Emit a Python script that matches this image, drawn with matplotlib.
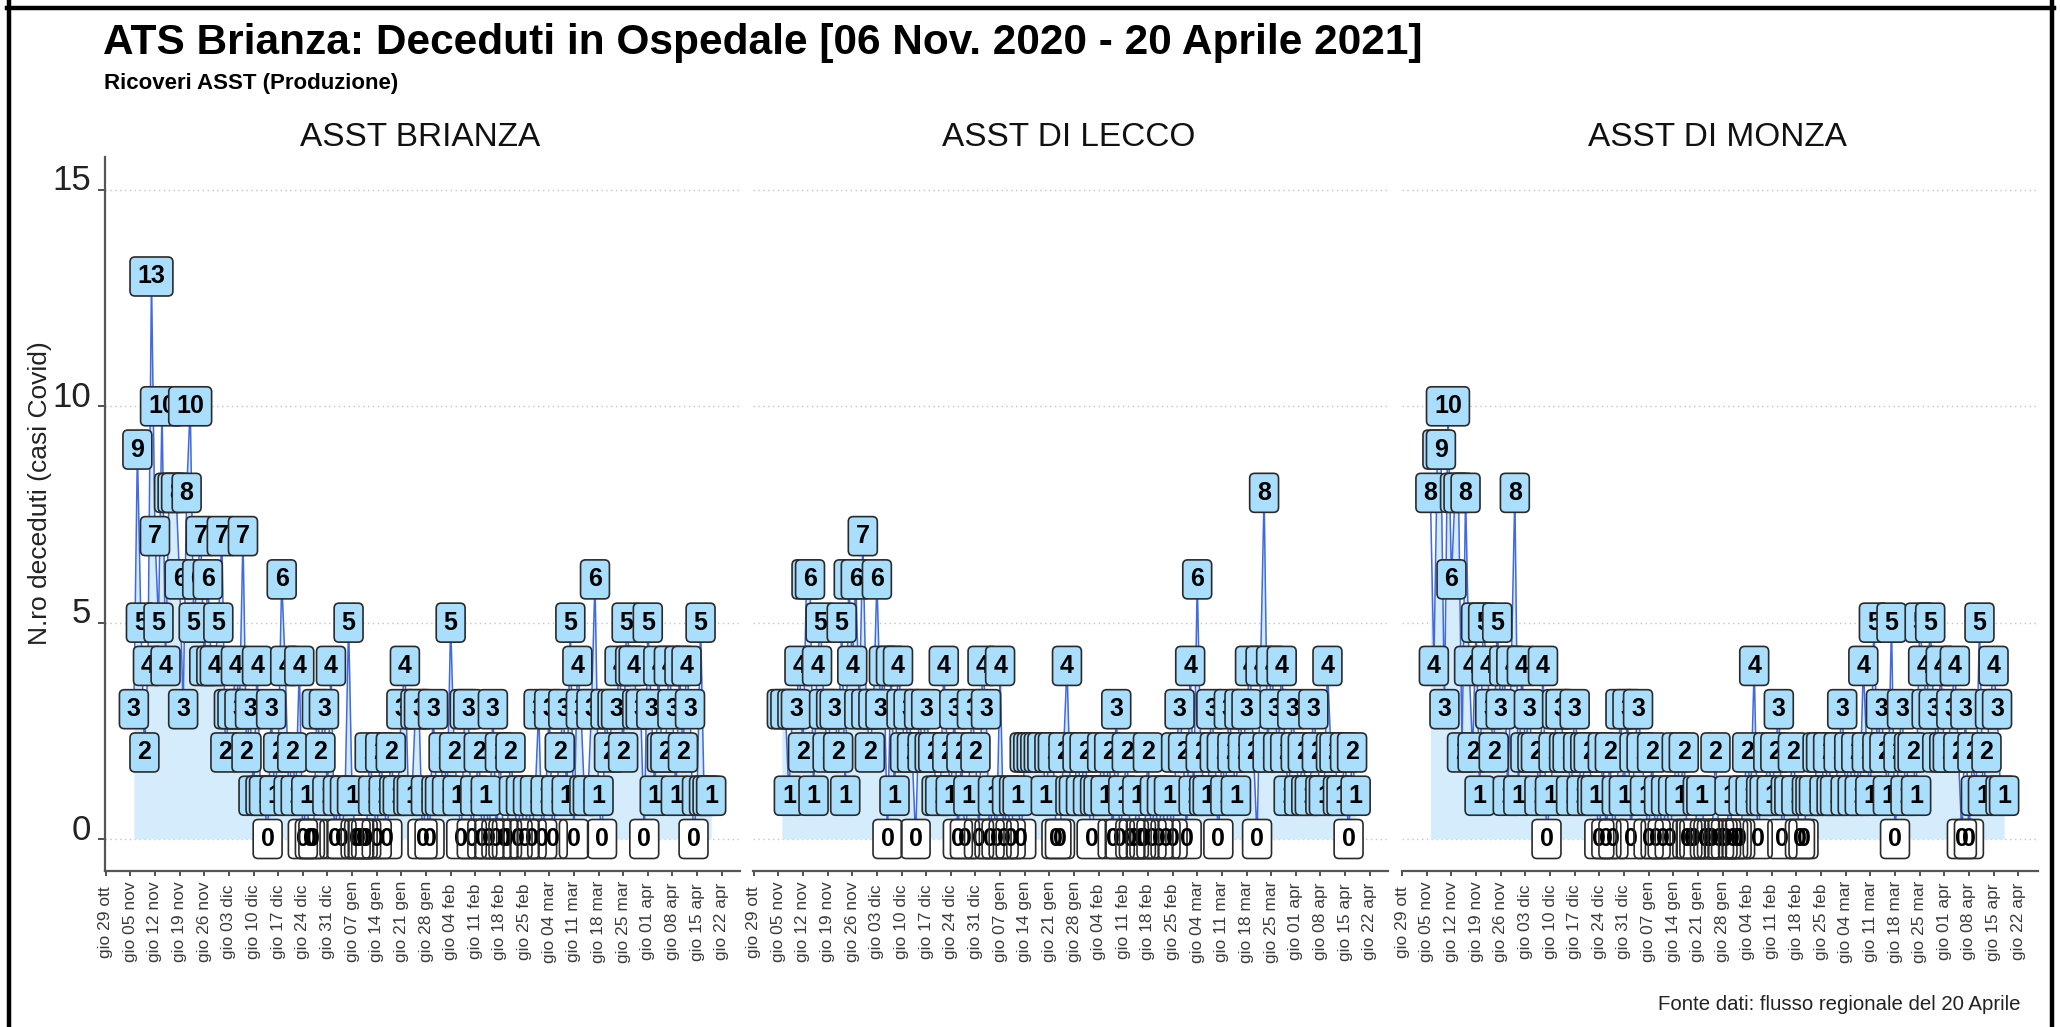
import matplotlib
matplotlib.use("Agg")
import matplotlib.pyplot as plt
import pandas as pd
from matplotlib.lines import Line2D
from matplotlib.transforms import ScaledTranslation

plt.rcParams['font.family'] = ['Liberation Sans', 'DejaVu Sans']

panels = ["ASST BRIANZA", "ASST DI LECCO", "ASST DI MONZA"]

brianza = [
    3, 9, 5, 2, 4, 13, 7, 5, 10, 4,
    8, 8, 8, 6, 3, 8, 10, 5, 6, 7,
    4, 6, 4, 4, 5, 7, 2, 3, 3, 4,
    3, 7, 2, 3, 1, 4, 1, 1, 0, 3,
    1, 2, 6, 4, 1, 2, 1, 4, 0, 1,
    0, 0, 3, 2, 3, 1, 4, 0, 1, 0,
    1, 5, 1, 0, 0, 0, 0, 2, 1, 0,
    2, 1, 0, 2, 1, 1, 3, 4, 1, 1,
    3, 3, 0, 1, 0, 3, 1, 1, 2, 1,
    5, 2, 1, 0, 3, 3, 0, 1, 2, 0,
    1, 0, 3, 0, 2, 0, 0, 2, 1, 0,
    1, 0, 1, 0, 1, 3, 0, 1, 3, 0,
    1, 2, 3, 1, 5, 0, 4, 3, 1, 1,
    3, 6, 1, 0, 3, 2, 3, 3, 4, 2,
    5, 4, 4, 3, 3, 0, 5, 3, 1, 4,
    2, 2, 4, 3, 1, 4, 2, 4, 3, 0,
    1, 5, 1, 1, 1,
]
lecco = [
    3, 3, 1, 3, 3, 4, 2, 6, 6, 1,
    4, 5, 3, 2, 3, 3, 2, 5, 1, 6,
    4, 6, 3, 7, 3, 2, 3, 6, 3, 4,
    0, 4, 1, 4, 3, 2, 3, 2, 0, 3,
    2, 3, 2, 2, 1, 1, 4, 2, 1, 3,
    0, 2, 0, 1, 3, 2, 0, 4, 3, 0,
    1, 0, 4, 0, 1, 0, 1, 1, 0, 2,
    2, 2, 2, 2, 2, 1, 2, 2, 0, 0,
    2, 4, 1, 1, 2, 1, 2, 1, 0, 1,
    1, 2, 1, 2, 0, 3, 0, 1, 2, 0,
    0, 1, 0, 0, 2, 0, 1, 0, 1, 0,
    1, 0, 2, 3, 2, 0, 4, 1, 6, 2,
    1, 1, 3, 2, 0, 2, 1, 3, 2, 1,
    3, 2, 3, 4, 2, 0, 4, 8, 2, 4,
    3, 2, 4, 2, 1, 3, 2, 1, 2, 1,
    1, 3, 2, 1, 1, 4, 2, 2, 1, 1,
    2, 0, 2, 1,
]
monza = [
    8, 4, 9, 9, 3, 10, 6, 8, 8, 2,
    8, 4, 2, 5, 1, 5, 4, 3, 2, 5,
    3, 4, 1, 4, 8, 1, 4, 2, 3, 2,
    2, 1, 4, 0, 1, 2, 3, 3, 2, 2,
    1, 3, 2, 1, 2, 2, 1, 1, 0, 2,
    0, 2, 0, 1, 3, 1, 3, 0, 2, 3,
    2, 1, 0, 2, 0, 1, 0, 1, 0, 1,
    2, 1, 2, 0, 0, 0, 1, 1, 0, 0,
    0, 2, 0, 0, 0, 1, 0, 0, 0, 1,
    2, 1, 4, 0, 1, 1, 2, 1, 2, 3,
    0, 1, 1, 2, 1, 0, 0, 1, 1, 1,
    2, 2, 1, 2, 1, 1, 2, 3, 1, 2,
    1, 2, 1, 4, 2, 1, 5, 2, 3, 2,
    1, 5, 0, 2, 3, 1, 2, 2, 1, 5,
    4, 3, 5, 3, 2, 4, 2, 2, 3, 4,
    2, 0, 3, 0, 2, 1, 5, 1, 2, 3,
    4, 3, 1, 1,
]
series = [brianza, lecco, monza]
start_date = "2020-11-06"

tick_labels = [
    "gio 29 ott", "gio 05 nov", "gio 12 nov", "gio 19 nov", "gio 26 nov",
    "gio 03 dic", "gio 10 dic", "gio 17 dic", "gio 24 dic", "gio 31 dic",
    "gio 07 gen", "gio 14 gen", "gio 21 gen", "gio 28 gen", "gio 04 feb",
    "gio 11 feb", "gio 18 feb", "gio 25 feb", "gio 04 mar", "gio 11 mar",
    "gio 18 mar", "gio 25 mar", "gio 01 apr", "gio 08 apr", "gio 15 apr",
    "gio 22 apr",
]
y_ticks = [0, 5, 10, 15]

W, H = 2060, 1027
fig = plt.figure(figsize=(W / 100, H / 100), dpi=100, facecolor="white")


def fx(px):
    return px / W


def fy(px):
    return 1 - px / H


AX_TOP, AX_BOTTOM = 157, 871
panel_edges = [(105, 740), (753, 1388), (1401.5, 2038)]
Y0_PX, PX_PER_UNIT = 839, 43.27
PX_PER_DAY = 3.52

tick_dates = pd.date_range("2020-10-29", periods=len(tick_labels), freq="7D")
LINE = "#4169E1"
AREA = "#D4ECFC"
FILL = "#A9DEFD"
EDGE = "#2A2A2A"
BOX = "round,pad=0.3,rounding_size=0.2"
LABEL_SIZE = 18

for idx, (name, vals) in enumerate(zip(panels, series)):
    left, right = panel_edges[idx]
    ax = fig.add_axes([fx(left), fy(AX_BOTTOM), (right - left) / W, (AX_BOTTOM - AX_TOP) / H])
    dates = pd.date_range(start_date, periods=len(vals), freq="D")
    ax.set_ylim(-(AX_BOTTOM - Y0_PX) / PX_PER_UNIT, (Y0_PX - AX_TOP) / PX_PER_UNIT)
    d0 = tick_dates[0] - pd.Timedelta(days=0.2)
    ax.set_xlim(d0, d0 + pd.Timedelta(days=(right - left) / PX_PER_DAY))

    ax.fill_between(dates, 0, vals, color=AREA, lw=0, zorder=1)
    ax.plot(dates, vals, color=LINE, lw=1.1, zorder=2)

    for d, v in zip(dates, vals):
        if v == 0:
            # white ground first; outlines and digits of the zero labels show through one another
            ax.text(d, v, str(v), ha="center", va="center", fontsize=LABEL_SIZE, fontweight="bold",
                    color=(0, 0, 0, 0), zorder=3, clip_on=False,
                    bbox=dict(boxstyle=BOX, fc="white", ec="none"))
            ax.text(d, v, str(v), ha="center", va="center", fontsize=LABEL_SIZE, fontweight="bold",
                    color="black", zorder=3.5, clip_on=False,
                    bbox=dict(boxstyle=BOX, fc="none", ec=EDGE, lw=1.2))
        else:
            ax.text(d, v, str(v), ha="center", va="center", fontsize=LABEL_SIZE, fontweight="bold",
                    color="black", zorder=3, clip_on=False,
                    bbox=dict(boxstyle=BOX, fc=FILL, ec=EDGE, lw=1.2))

    ax.set_yticks(y_ticks)
    ax.yaxis.grid(True, color="#C4C4C4", lw=1.0, linestyle=(0, (1, 2.5)), zorder=0)
    ax.xaxis.grid(False)
    ax.set_axisbelow(True)
    ax.set_xticks(tick_dates)
    ax.set_xticklabels(tick_labels, rotation=90, fontsize=12.5, color="#3A3A3A")
    ax.tick_params(axis="x", length=3.5, width=1.2, color="#333333", pad=33)
    for lab in ax.get_xticklabels():
        lab.set_va("center")
    for s in ("top", "right"):
        ax.spines[s].set_visible(False)
    ax.spines["bottom"].set_color("#555555")
    ax.spines["bottom"].set_linewidth(1.6)
    if idx == 0:
        ax.spines["left"].set_color("#555555")
        ax.spines["left"].set_linewidth(1.6)
        ax.set_yticklabels([str(t) for t in y_ticks], fontsize=25, color="#222222")
        ax.tick_params(axis="y", length=5, width=1.2, color="#333333", pad=5)
        for lab in ax.get_yticklabels():
            lab.set_va("center")
            lab.set_transform(lab.get_transform() + ScaledTranslation(0, 9 / 100, fig.dpi_scale_trans))
    else:
        ax.spines["left"].set_visible(False)
        ax.tick_params(axis="y", length=0, labelleft=False)
    ax.patch.set_alpha(0)
    fig.text(fx((left + right) / 2 - 2), fy(137), name, ha="center", va="center", fontsize=24, color="#111111")

fig.text(fx(103), fy(43), "ATS Brianza: Deceduti in Ospedale [06 Nov. 2020 - 20 Aprile 2021]",
         ha="left", va="center", fontsize=30.5, fontweight="bold", color="black")
fig.text(fx(104), fy(83), "Ricoveri ASST (Produzione)", ha="left", va="center",
         fontsize=16, fontweight="bold", color="black")
fig.text(fx(40), fy(493), "N.ro deceduti (casi Covid)", rotation=90, ha="center", va="center",
         fontsize=19, color="#222222")
fig.text(fx(2020), fy(1005), "Fonte dati: flusso regionale del 20 Aprile", ha="right", va="center",
         fontsize=14.7, color="#222222")

for xs, ys in [((9, 9), (0, 1027)), ((2052, 2052), (0, 1027)), ((7, 2054), (8, 8))]:
    fig.add_artist(Line2D([fx(x) for x in xs], [fy(y) for y in ys], color="black", lw=3.2,
                          transform=fig.transFigure))

fig.savefig("out.png", dpi=100, facecolor="white")
